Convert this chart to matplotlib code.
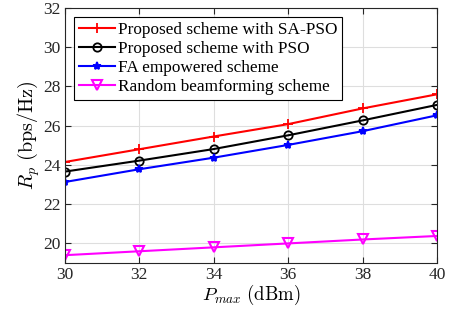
import numpy as np
import matplotlib.pyplot as plt

plt.rcParams['font.family'] = ['Liberation Serif', 'DejaVu Serif']
plt.rcParams['mathtext.fontset'] = 'cm'

p_max = [30, 32, 34, 36, 38, 40]
sa_pso = [24.15, 24.8, 25.45, 26.08, 26.88, 27.6]
pso = [23.66, 24.22, 24.81, 25.51, 26.27, 27.06]
fa = [23.13, 23.78, 24.37, 25.02, 25.72, 26.53]
rand_bf = [19.4, 19.6, 19.8, 20.0, 20.2, 20.38]

fig = plt.figure(figsize=(4.5, 3.2), dpi=100)
ax = fig.add_axes([0.144, 0.178, 0.827, 0.797])

ax.plot(p_max, sa_pso, color='#ff0000', marker='+', ms=7, mew=1.3, lw=1.5,
        label='Proposed scheme with SA-PSO')
ax.plot(p_max, pso, color='black', marker='o', ms=6, mfc='none', mew=1.3, lw=1.5,
        label='Proposed scheme with PSO')
ax.plot(p_max, fa, color='#0000ff', marker='*', ms=6, mew=1.3, lw=1.5,
        label='FA empowered scheme')
ax.plot(p_max, rand_bf, color='#ff00ff', marker='v', ms=7, mfc='none', mew=1.5, lw=1.5,
        label='Random beamforming scheme')

ax.set_xlim(30, 40)
ax.set_ylim(19, 32)
ax.set_xticks(p_max)
ax.set_yticks([20, 22, 24, 26, 28, 30, 32])
ax.grid(True, color='#dedede', lw=0.8)
ax.set_axisbelow(True)
ax.tick_params(direction='in', top=True, right=True, labelsize=12.5, colors='#262626',
               labelcolor='#262626', length=4, pad=3)
for s in ax.spines.values():
    s.set_color('#262626')
    s.set_linewidth(0.8)

ax.set_xlabel(r'$P_{max}\ \mathrm{(dBm)}$', fontsize=13.5, labelpad=0)
ax.set_ylabel(r'$R_p\ \mathrm{(bps/Hz)}$', fontsize=14.5, labelpad=1)

leg = ax.legend(loc='upper left', fontsize=12.4, frameon=True, fancybox=False,
                edgecolor='black', framealpha=1, borderaxespad=0.55,
                handlelength=2.1, handletextpad=0.2, labelspacing=0.18,
                borderpad=0.25)
leg.get_frame().set_linewidth(0.8)

fig.savefig('out.png', dpi=100)
